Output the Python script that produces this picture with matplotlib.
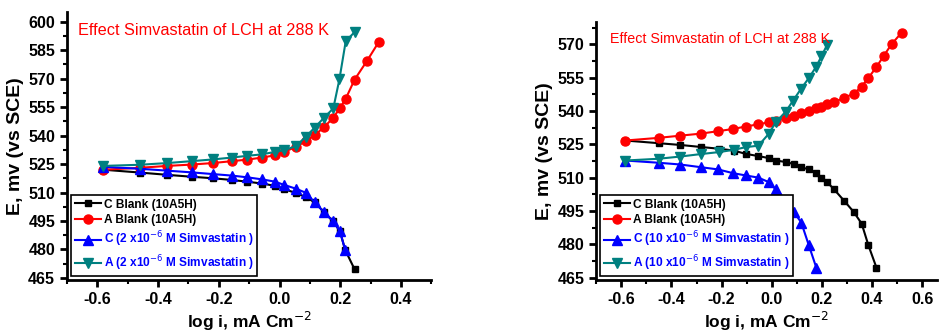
import matplotlib
matplotlib.use("Agg")
import matplotlib.pyplot as plt
from matplotlib.ticker import AutoMinorLocator

plt.rcParams['font.family'] = ['Liberation Sans', 'DejaVu Sans']

# ---------- Left panel (2x10^-6 M) ----------
L_cb_x = [-0.58, -0.46, -0.37, -0.29, -0.22, -0.157, -0.107, -0.057, -0.015, 0.015, 0.054, 0.086, 0.116, 0.146, 0.177, 0.199, 0.216, 0.247]
L_cb_y = [522, 520.5, 519.3, 518.3, 517.5, 516.6, 515.7, 514.7, 513.5, 511.8, 509.7, 507.6, 504.8, 499.7, 494.8, 489.5, 479.8, 469.6]
L_ab_x = [-0.58, -0.46, -0.37, -0.29, -0.22, -0.157, -0.107, -0.057, -0.015, 0.015, 0.054, 0.086, 0.116, 0.146, 0.177, 0.199, 0.218, 0.247, 0.288, 0.327]
L_ab_y = [522, 523, 524, 524.7, 525.5, 526.5, 527.3, 528.4, 529.6, 531.4, 534, 537, 540.3, 544.3, 549.4, 554.5, 559.4, 569.4, 579.3, 589.3]
L_cs_x = [-0.58, -0.46, -0.37, -0.29, -0.22, -0.157, -0.107, -0.057, -0.015, 0.015, 0.054, 0.086, 0.116, 0.146, 0.177, 0.199, 0.216]
L_cs_y = [523.5, 522.5, 521.5, 520.6, 519.7, 518.9, 518, 516.9, 515.7, 514, 512, 509.9, 504.8, 499.7, 494.8, 489.5, 479.8]
L_as_x = [-0.58, -0.46, -0.37, -0.29, -0.22, -0.157, -0.107, -0.057, -0.015, 0.015, 0.054, 0.086, 0.116, 0.146, 0.177, 0.197, 0.218, 0.247]
L_as_y = [524, 524.6, 525.5, 526.5, 527.4, 528.4, 529.3, 530.1, 531.4, 532.3, 534.4, 539.3, 544.2, 549.3, 554.3, 569.5, 589.7, 594.4]

# ---------- Right panel (10x10^-6 M) ----------
R_cb_x = [-0.584, -0.451, -0.364, -0.283, -0.21, -0.152, -0.104, -0.053, -0.012, 0.016, 0.059, 0.088, 0.118, 0.148, 0.178, 0.198, 0.221, 0.249, 0.289, 0.327, 0.359, 0.386, 0.418]
R_cb_y = [526.7, 525.5, 524.7, 523.8, 523, 522.2, 520.7, 519.7, 518.8, 517.7, 517, 516.1, 514.7, 513.7, 511.9, 510, 508, 504.7, 499.6, 494.6, 489.3, 479.5, 469.5]
R_ab_x = [-0.584, -0.451, -0.364, -0.283, -0.214, -0.154, -0.104, -0.053, -0.012, 0.016, 0.059, 0.088, 0.118, 0.148, 0.178, 0.198, 0.221, 0.249, 0.289, 0.327, 0.359, 0.386, 0.418, 0.447, 0.478, 0.518]
R_ab_y = [526.7, 527.9, 528.9, 529.8, 530.9, 531.9, 533, 534, 534.9, 535.6, 536.8, 537.9, 538.9, 540, 541.2, 541.9, 543, 543.9, 546, 547.7, 551, 554.9, 559.8, 564.8, 570, 575.2]
R_cs_x = [-0.584, -0.451, -0.364, -0.283, -0.214, -0.154, -0.104, -0.053, -0.012, 0.016, 0.059, 0.088, 0.118, 0.148, 0.178]
R_cs_y = [517.7, 516.7, 515.9, 514.7, 513.7, 512, 511, 510, 508, 504.7, 499.8, 494.6, 489.8, 479.6, 469.5]
R_as_x = [-0.584, -0.451, -0.364, -0.283, -0.21, -0.152, -0.104, -0.053, -0.012, 0.016, 0.056, 0.085, 0.116, 0.148, 0.178, 0.198, 0.221]
R_as_y = [517.7, 518.5, 519.5, 520.6, 521.5, 522.5, 523.7, 524.4, 529.7, 534.9, 539.7, 544.6, 549.8, 554.8, 560, 564.5, 569.7]

title = "Effect Simvastatin of LCH at 288 K"
labels_L = ["C Blank (10A5H)", "A Blank (10A5H)",
            "C (2 x10$^{-6}$ M Simvastatin )", "A (2 x10$^{-6}$ M Simvastatin )"]
labels_R = ["C Blank (10A5H)", "A Blank (10A5H)",
            "C (10 x10$^{-6}$ M Simvastatin )", "A (10 x10$^{-6}$ M Simvastatin )"]

colors = ['black', 'red', 'blue', '#008080']
markers = ['s', 'o', '^', 'v']
msizes = [5, 6.5, 6.5, 6.5]

fig = plt.figure(figsize=(9.39, 3.34), dpi=100)
axL = fig.add_axes([0.0714, 0.162, 0.388, 0.802])
axR = fig.add_axes([0.635, 0.162, 0.363, 0.772])

def draw(ax, series, labels, xlim, ylim, xticks, yticks, tsize, tpos, lsize):
    for (x, y), lab, c, m, ms in zip(series, labels, colors, markers, msizes):
        ax.plot(x, y, color=c, marker=m, markersize=ms, lw=1.5, label=lab)
    ax.set_xlim(*xlim)
    ax.set_ylim(*ylim)
    ax.set_xticks(xticks)
    ax.set_yticks(yticks)
    ax.xaxis.set_minor_locator(AutoMinorLocator(2))
    ax.yaxis.set_minor_locator(AutoMinorLocator(2))
    for s in ['top', 'right']:
        ax.spines[s].set_visible(False)
    for s in ['left', 'bottom']:
        ax.spines[s].set_linewidth(2)
    ax.tick_params(which='major', direction='out', length=5, width=2, labelsize=11.5)
    ax.tick_params(which='minor', direction='out', length=3, width=1.5)
    ax.set_xticklabels([f"{v:.1f}" for v in xticks])
    for t in ax.get_xticklabels() + ax.get_yticklabels():
        t.set_fontweight('bold')
    ax.set_ylabel("E, mv (vs SCE)", fontsize=14, fontweight='bold', labelpad=3)
    ax.set_xlabel("log i, mA Cm$^{-2}$", fontsize=12.5, fontweight='bold', labelpad=2)
    ax.text(tpos[0], tpos[1], title, color='red', fontsize=tsize, transform=ax.transAxes,
            va='center', ha='left')
    leg = ax.legend(loc='lower left', bbox_to_anchor=(0.005, 0.005),
                    prop={'size': lsize, 'weight': 'bold'}, framealpha=1,
                    frameon=True, fancybox=False, edgecolor='black', handlelength=2.2,
                    handletextpad=0.2, borderpad=0.3, labelspacing=0.3, borderaxespad=0.2)
    leg.get_frame().set_linewidth(1.2)
    for i, t in enumerate(leg.get_texts()):
        t.set_color('black' if i < 2 else 'blue')
    return ax

draw(axL, [(L_cb_x, L_cb_y), (L_ab_x, L_ab_y), (L_cs_x, L_cs_y), (L_as_x, L_as_y)], labels_L,
     (-0.7, 0.5), (464, 605), [-0.6, -0.4, -0.2, 0.0, 0.2, 0.4],
     [465, 480, 495, 510, 525, 540, 555, 570, 585, 600], 11.7, (0.03, 0.93), 8.6)
draw(axR, [(R_cb_x, R_cb_y), (R_ab_x, R_ab_y), (R_cs_x, R_cs_y), (R_as_x, R_as_y)], labels_R,
     (-0.7, 0.66), (464, 580), [-0.6, -0.4, -0.2, 0.0, 0.2, 0.4, 0.6],
     [465, 480, 495, 510, 525, 540, 555, 570], 10.3, (0.04, 0.935), 8.6)

fig.savefig("out.png", dpi=100)
